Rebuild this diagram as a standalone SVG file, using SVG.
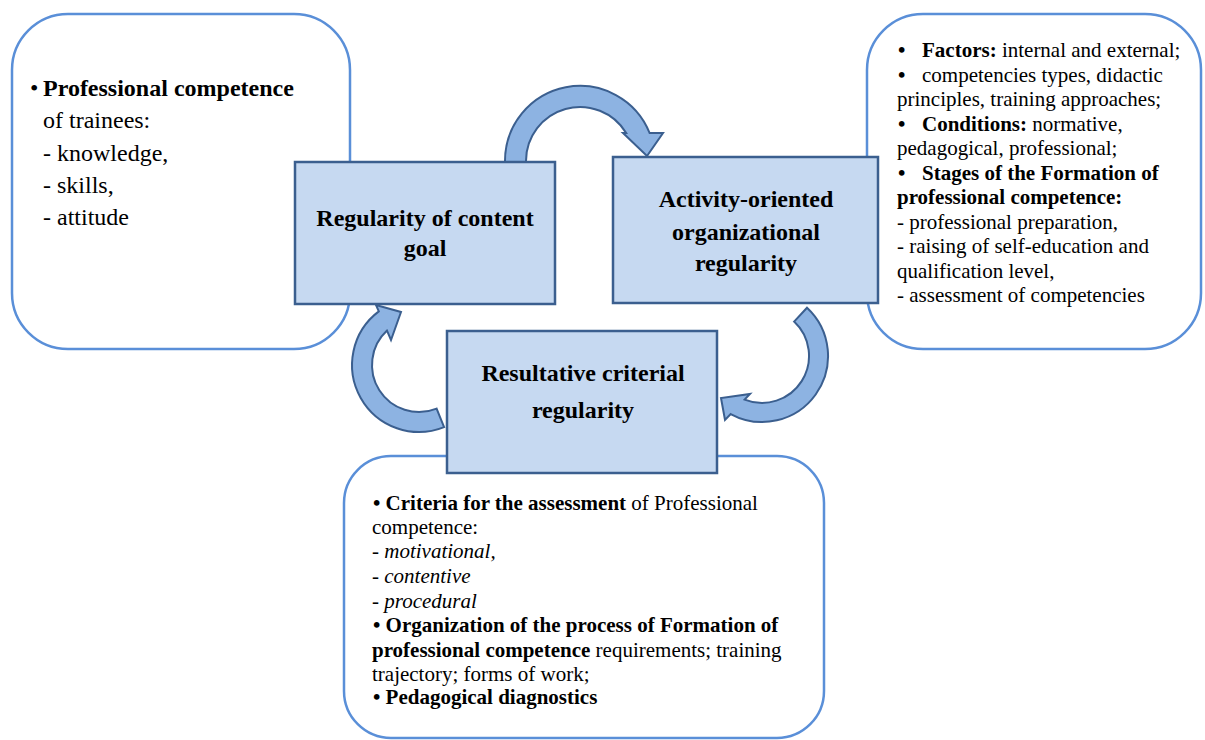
<svg xmlns="http://www.w3.org/2000/svg" width="1205" height="740" viewBox="0 0 1205 740">
<style>
.panel{fill:#ffffff;stroke:#5a8fd8;stroke-width:2.5}
.node{fill:#c6d9f1;stroke:#3b5f8f;stroke-width:2.5}
.arrow{fill:#8db3e2;stroke:#3b5f8f;stroke-width:2;stroke-linejoin:miter}
text{font-family:"Liberation Serif","Times New Roman",serif;fill:#000}
.t24{font-size:24px}
.t21{font-size:21px}
.b{font-weight:bold}
.i{font-style:italic}
.nt{font-size:24px;font-weight:bold;text-anchor:middle}
</style>
<rect width="1205" height="740" fill="#ffffff"/>

<g id="panel-left">
<rect class="panel" x="12" y="14" width="338" height="335" rx="56" ry="56"/>
<text class="t24" x="30" y="96">•</text>
<text class="t24 b" x="43" y="96">Professional competence</text>
<text class="t24" x="43" y="128">of trainees:</text>
<text class="t24" x="43" y="161">- knowledge,</text>
<text class="t24" x="43" y="193">- skills,</text>
<text class="t24" x="43" y="225">- attitude</text>
</g>

<g id="panel-right">
<rect class="panel" x="867" y="14" width="334" height="335" rx="56" ry="56"/>
<g class="t21">
<text x="898" y="57" class="b">•</text>
<text x="922" y="57"><tspan class="b">Factors:</tspan> internal and external;</text>
<text x="898" y="81.5" class="b">•</text>
<text x="922" y="81.5">competencies types, didactic</text>
<text x="897" y="106">principles, training approaches;</text>
<text x="898" y="130.5" class="b">•</text>
<text x="922" y="130.5"><tspan class="b">Conditions:</tspan> normative,</text>
<text x="897" y="155">pedagogical, professional;</text>
<text x="898" y="179.5" class="b">•</text>
<text x="922" y="179.5" class="b">Stages of the Formation of</text>
<text x="897" y="204" class="b">professional competence:</text>
<text x="897" y="228.5">- professional preparation,</text>
<text x="897" y="253">- raising of self-education and</text>
<text x="897" y="277.5">qualification level,</text>
<text x="897" y="302">- assessment of competencies</text>
</g>
</g>

<g id="panel-bottom">
<rect class="panel" x="344" y="456" width="480" height="282" rx="47" ry="47"/>
<g class="t21">
<text x="373" y="510"><tspan class="b">• Criteria for the assessment</tspan> of Professional</text>
<text x="372" y="534">competence:</text>
<text x="372" y="558" class="i">- motivational,</text>
<text x="372" y="583" class="i">- contentive</text>
<text x="372" y="608" class="i">- procedural</text>
<text x="373" y="632" class="b">• Organization of the process of Formation of</text>
<text x="372" y="657"><tspan class="b">professional competence</tspan> requirements; training</text>
<text x="372" y="681">trajectory; forms of work;</text>
<text x="373" y="704" class="b">• Pedagogical diagnostics</text>
</g>
</g>

<g id="connectors">
<path class="arrow" d="M 505,162 L 505,161 A 75 75 0 0 1 649.6,133 L 663,133 L 647,156 L 623,133 L 626.2,133 A 54 54 0 0 0 526,161 L 526,162 Z"/>
<path class="arrow" d="M 807,307.7 A 66 66 0 0 1 730.7,414.1 L 725,420 L 721,398 L 750,394 L 744.6,399.6 A 47 47 0 0 0 794.1,321.6 Z"/>
<path class="arrow" d="M 436.6,408.6 L 444.1,427.1 A 67 67 0 0 1 378.8,311.4 L 376,305 L 401,312 L 391,340 L 387,330.6 A 47 47 0 0 0 436.6,408.6 Z"/>
</g>

<g id="node-content-goal">
<rect class="node" x="295" y="162" width="260" height="142"/>
<text class="nt" x="425" y="226">Regularity of content</text>
<text class="nt" x="425" y="256">goal</text>
</g>

<g id="node-activity">
<rect class="node" x="613" y="157" width="265" height="146"/>
<text class="nt" x="746" y="207">Activity-oriented</text>
<text class="nt" x="746" y="240">organizational</text>
<text class="nt" x="746" y="271">regularity</text>
</g>

<g id="node-resultative">
<rect class="node" x="447" y="331" width="270" height="142"/>
<text class="nt" x="583" y="381">Resultative criterial</text>
<text class="nt" x="583" y="418">regularity</text>
</g>
</svg>
